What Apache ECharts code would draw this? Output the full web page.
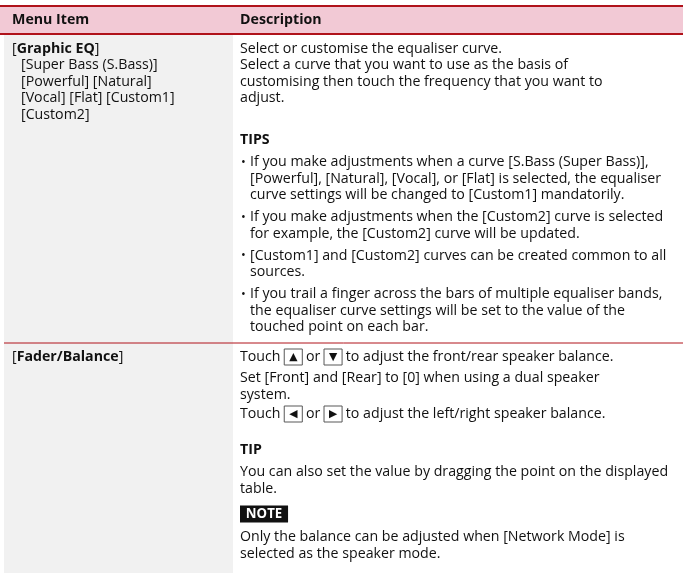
<!DOCTYPE html>
<html><head><meta charset="utf-8">
<script src="https://cdn.jsdelivr.net/npm/echarts/dist/echarts.min.js"></script>
<style>html,body{margin:0;padding:0;background:#fff}#c{width:683px;height:573px}</style>
</head><body><div id="c"></div>
<script>
// ---- table content ----
const headers = ['Menu Item', 'Description'];

const row1Item = '[Graphic EQ]';
const row1Options = ['[Super Bass (S.Bass)]', '[Powerful] [Natural]', '[Vocal] [Flat] [Custom1]', '[Custom2]'];
const row1Desc = [
  'Select or customise the equaliser curve.',
  'Select a curve that you want to use as the basis of',
  'customising then touch the frequency that you want to',
  'adjust.'
];
const row1TipsTitle = 'TIPS';
const row1Tips = [
  ['If you make adjustments when a curve [S.Bass (Super Bass)],',
   '[Powerful], [Natural], [Vocal], or [Flat] is selected, the equaliser',
   'curve settings will be changed to [Custom1] mandatorily.'],
  ['If you make adjustments when the [Custom2] curve is selected',
   'for example, the [Custom2] curve will be updated.'],
  ['[Custom1] and [Custom2] curves can be created common to all',
   'sources.'],
  ['If you trail a finger across the bars of multiple equaliser bands,',
   'the equaliser curve settings will be set to the value of the',
   'touched point on each bar.']
];

const row2Item = '[Fader/Balance]';
const row2Desc = [
  'Touch ▲ or ▼ to adjust the front/rear speaker balance.',
  'Set [Front] and [Rear] to [0] when using a dual speaker',
  'system.',
  'Touch ◀ or ▶ to adjust the left/right speaker balance.'
];
const row2TipTitle = 'TIP';
const row2Tip = ['You can also set the value by dragging the point on the displayed', 'table.'];
const row2NoteTitle = 'NOTE';
const row2Note = ['Only the balance can be adjusted when [Network Mode] is', 'selected as the speaker mode.'];

// ---- styling / layout ----
const FONT_FAMILY = '"Open Sans", "Noto Sans", sans-serif';
const FS = 14.5;
const TEXT = '#111';
const RED = '#b0121a';
const PINK = '#f2c9d5';
const GREY = '#f1f1f1';
const LH = 16.5;

const mctx = document.createElement('canvas').getContext('2d');
mctx.font = FS + 'px ' + FONT_FAMILY;
const SX = 262 / mctx.measureText(row1Desc[0]).width;

const W = 683, H = 573;
const COL_SPLIT = 233;
const X_LEFT = 12, X_INDENT = 21, X_RIGHT = 240, X_BULLET = 241, X_BTEXT = 250;

const els = [];
function rect(x, y, w, h, fill) {
  els.push({ type: 'rect', silent: true, shape: { x, y, width: w, height: h }, style: { fill } });
}
function hline(x1, x2, y, lw) {
  els.push({ type: 'line', silent: true, shape: { x1, y1: y, x2, y2: y }, style: { stroke: RED, lineWidth: lw } });
}
const rich = {
  b: { fontWeight: 'bold', fontSize: FS, fontFamily: FONT_FAMILY, fill: TEXT },
  k: { fontSize: 11, fontFamily: 'DejaVu Sans', fill: '#111', borderColor: '#555', borderWidth: 1,
       padding: [3, 5, 2, 5], lineHeight: 17 },
  n: { fontWeight: 'bold', fontSize: 13.5, fontFamily: FONT_FAMILY, fill: '#fff', backgroundColor: '#111',
       padding: [2, 6, 1, 6] }
};
function txt(x, y, text, bold, size) {
  els.push({
    type: 'text', silent: true, x, y, scaleX: SX,
    style: {
      x: 0, y: 0, text,
      fontSize: size || FS, fontFamily: FONT_FAMILY, fontWeight: bold ? 'bold' : 'normal',
      fill: TEXT, verticalAlign: 'middle', align: 'left', rich
    }
  });
}
const boldItem = s => s.replace(/^\[(.*)\]$/, '[{b|$1}]');
const keyify = s => s.replace(/([▲▼◀▶])/g, '{k|$1}');

// backgrounds
rect(0, 6, W, 28, PINK);
rect(4, 34, COL_SPLIT - 4, H - 34, GREY);
hline(0, W, 6, 2);
hline(0, W, 34, 2);

// header
txt(X_LEFT, 20, headers[0], true);
txt(X_RIGHT, 20, headers[1], true);

// row 1
let y = 48.5;
txt(X_LEFT, y, boldItem(row1Item));
row1Options.forEach((s, i) => txt(X_INDENT, y + LH * (i + 1), s));
row1Desc.forEach((s, i) => txt(X_RIGHT, y + LH * i, s));
y = y + LH * (row1Desc.length - 1) + 42;
txt(X_RIGHT, y, row1TipsTitle, true);
y += 22;
row1Tips.forEach((b, bi) => {
  if (bi > 0) y += 5.5;
  b.forEach((s, li) => {
    if (li === 0) txt(X_BULLET, y, '•', false, 13);
    txt(X_BTEXT, y, s);
    y += LH;
  });
});
const sepY = 343;
hline(4, W, sepY, 1);

// row 2
y = 357;
txt(X_LEFT, y, boldItem(row2Item));
const r2Pos = [0, 21, 38, 57];
row2Desc.forEach((s, i) => txt(X_RIGHT, y + r2Pos[i], keyify(s)));
y += r2Pos[3] + 36;
txt(X_RIGHT, y, row2TipTitle, true);
y += 22;
row2Tip.forEach((s, i) => txt(X_RIGHT, y + LH * i, s));
y += LH * (row2Tip.length - 1) + 25.5;
txt(X_RIGHT, y, '{n|' + row2NoteTitle + '}');
y += 23;
row2Note.forEach((s, i) => txt(X_RIGHT, y + LH * i, s));

const chart = echarts.init(document.getElementById('c'), null, { renderer: 'canvas' });
chart.setOption({ backgroundColor: '#fff', animation: false, graphic: { elements: els } });
</script></body></html>
